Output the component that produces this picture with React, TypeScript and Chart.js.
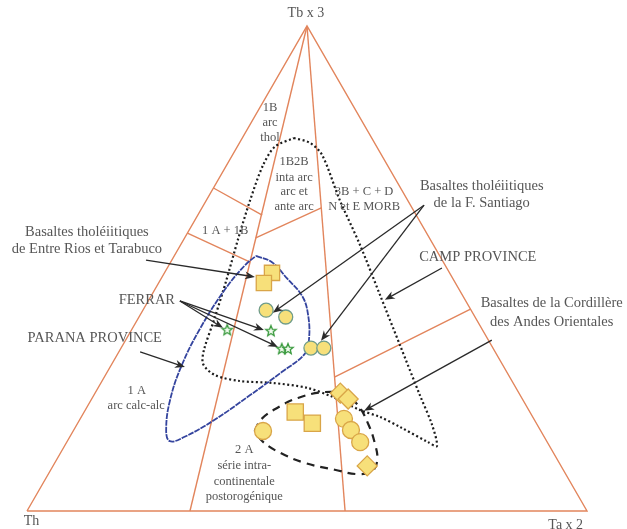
import { useEffect, useRef } from 'react';
import { Chart, registerables } from 'chart.js';
Chart.register(...registerables);

// ---------- data: compositions in % as [Th, Tb x 3, Ta x 2] ----------
const entreRiosSquares = [[31.7, 49.1, 19.2], [34.2, 47.0, 18.8]];
const santiagoCircles = [[36.6, 41.4, 22.0], [33.8, 40.0, 26.2], [32.5, 33.6, 33.9], [30.2, 33.6, 36.2]];
const ferrarStars = [[45.6, 37.3, 17.1], [37.9, 37.1, 25.0], [37.8, 33.4, 28.8], [36.7, 33.4, 29.9]];
const intraSquares = [[41.9, 20.4, 37.7], [40.0, 18.1, 41.9]];
const intraCircles = [[49.6, 16.5, 33.9]];
const cordillereCircles = [[33.9, 19.0, 47.1], [33.8, 16.7, 49.5], [33.4, 14.2, 52.4]];
const cordillereDiamonds = [[31.9, 24.3, 43.8], [31.1, 23.1, 45.8], [34.6, 9.3, 56.1]];

const frame = [[100, 0, 0], [0, 100, 0], [0, 0, 100], [100, 0, 0]];
const boundaries = [
  [[70.9, 0, 29.1], [0, 100, 0]],
  [[43.2, 0, 56.8], [0, 100, 0]],
  [[33.4, 66.6, 0], [27.5, 61.0, 11.5]],
  [[42.7, 57.3, 0], [34.5, 51.3, 14.2]],
  [[31.0, 56.3, 12.7], [16.2, 62.5, 21.3]],
  [[31.3, 27.6, 41.1], [0, 41.6, 58.4]],
];

const paranaOutline = [
  [32.8, 52.6, 14.6], [30.6, 51.3, 18.1], [29.6, 48.0, 22.4], [28.7, 44.3, 27.0], [29.6, 40.4, 30.0],
  [32.0, 35.3, 32.7], [34.2, 32.4, 33.4], [40.1, 28.7, 31.2], [48.2, 23.9, 27.9], [57.1, 18.8, 24.1],
  [64.2, 15.3, 20.5], [67.3, 14.4, 18.3], [66.8, 16.7, 16.5], [63.0, 22.9, 14.1], [57.3, 30.1, 12.6],
  [50.2, 37.7, 12.1], [41.9, 45.6, 12.5], [35.7, 50.7, 13.6], [32.8, 52.6, 14.6],
];
const campOutline = [
  [13.9, 76.9, 9.2], [11.5, 75.9, 12.6], [10.6, 73.4, 16.0], [12.1, 64.1, 23.8], [13.1, 54.9, 32.0],
  [14.7, 44.5, 40.8], [16.3, 34.2, 49.5], [17.9, 23.9, 58.2], [18.8, 17.7, 63.5], [20.1, 13.4, 66.5],
  [21.3, 14.2, 64.5], [24.7, 17.3, 58.0], [27.3, 19.4, 53.3], [30.1, 20.8, 49.1], [33.6, 23.5, 42.9],
  [37.3, 25.4, 37.3], [42.9, 26.4, 30.7], [48.6, 26.8, 24.6], [52.4, 28.0, 19.6], [53.4, 30.3, 16.3],
  [51.8, 33.2, 15.0], [46.9, 39.4, 13.7], [40.6, 47.6, 11.8], [34.4, 55.9, 9.7], [28.1, 64.1, 7.8],
  [22.2, 71.3, 6.5], [18.2, 75.1, 6.7], [13.9, 76.9, 9.2],
];
const intraField = [
  [51.1, 16.5, 32.4], [48.6, 19.0, 32.4], [44.0, 21.6, 34.4], [40.0, 23.3, 36.7], [34.9, 24.5, 40.6],
  [31.5, 24.1, 44.4], [30.0, 21.9, 48.1], [30.1, 17.9, 52.0], [30.9, 14.0, 55.1], [32.2, 10.5, 57.3],
  [34.3, 8.2, 57.5], [37.1, 7.6, 55.3], [40.8, 8.5, 50.7], [45.4, 9.9, 44.7], [48.8, 12.0, 39.2],
  [50.7, 14.2, 35.1], [51.1, 16.5, 32.4],
];

// ---------- layout (plot units: x 0..100 along base, y 0..86.6 up) ----------
const fieldLabels = [
  { t: 'Tb x 3', x: 49.8, y: 88.8, s: 14 },
  { t: 'Th', x: 0.8, y: -1.8, s: 14 },
  { t: 'Ta x 2', x: 96.2, y: -2.5, s: 14 },
  { t: '1B', x: 43.4, y: 72.0, s: 12.5 },
  { t: 'arc', x: 43.4, y: 69.3, s: 12.5 },
  { t: 'thol', x: 43.4, y: 66.6, s: 12.5 },
  { t: '1B2B', x: 47.7, y: 62.3, s: 12.5 },
  { t: 'inta arc', x: 47.7, y: 59.6, s: 12.5 },
  { t: 'arc et', x: 47.7, y: 57.0, s: 12.5 },
  { t: 'ante arc', x: 47.7, y: 54.3, s: 12.5 },
  { t: '3B + C + D', x: 60.2, y: 57.0, s: 12.5 },
  { t: 'N et E MORB', x: 60.2, y: 54.3, s: 12.5 },
  { t: '1 A + 1B', x: 35.4, y: 50.0, s: 12.5 },
  { t: '1 A', x: 19.6, y: 21.4, s: 12.5 },
  { t: 'arc calc-alc', x: 19.5, y: 18.8, s: 12.5 },
  { t: '2 A', x: 38.8, y: 10.9, s: 12.5 },
  { t: 'série intra-', x: 38.8, y: 8.1, s: 12.5 },
  { t: 'continentale', x: 38.8, y: 5.2, s: 12.5 },
  { t: 'postorogénique', x: 38.8, y: 2.5, s: 12.5 },
  { t: 'Basaltes tholéiitiques', x: 10.7, y: 49.8, s: 14.5 },
  { t: 'de Entre Rios et Tarabuco', x: 10.7, y: 46.8, s: 14.5 },
  { t: 'FERRAR', x: 21.4, y: 37.7, s: 14.5 },
  { t: 'PARANA PROVINCE', x: 12.1, y: 30.9, s: 14.5 },
  { t: 'Basaltes tholéiitiques', x: 81.2, y: 58.0, s: 14.5 },
  { t: 'de la F. Santiago', x: 81.2, y: 55.0, s: 14.5 },
  { t: 'CAMP PROVINCE', x: 80.5, y: 45.4, s: 14.5 },
  { t: 'Basaltes de la Cordillère', x: 93.7, y: 37.1, s: 14.5 },
  { t: 'des Andes Orientales', x: 93.7, y: 33.8, s: 14.5 },
];
const arrows = [
  { from: [21.25, 44.8], to: [40.7, 41.8] },
  { from: [27.3, 37.5], to: [35.0, 32.7] },
  { from: [27.3, 37.5], to: [42.3, 32.3] },
  { from: [27.3, 37.5], to: [44.8, 29.3] },
  { from: [20.2, 28.4], to: [28.2, 25.7] },
  { from: [70.9, 54.6], to: [43.9, 35.4] },
  { from: [70.9, 54.6], to: [52.5, 30.4] },
  { from: [74.1, 43.4], to: [63.9, 37.7] },
  { from: [83.0, 30.5], to: [60.2, 17.9] },
];

const SQ = Math.sqrt(3) / 2;
const tern = (p: number[]) => {
  const s = p[0] + p[1] + p[2];
  const tb = (p[1] / s) * 100;
  const ta = (p[2] / s) * 100;
  return { x: ta + tb / 2, y: tb * SQ };
};
const FONT = '"Liberation Serif", "Times New Roman", serif';
const ORANGE = '#e2855c';
const YELLOW = '#f7e07a';

function makeStar(): HTMLCanvasElement {
  const c = document.createElement('canvas');
  c.width = 14; c.height = 14;
  const g = c.getContext('2d')!;
  g.beginPath();
  for (let i = 0; i < 10; i++) {
    const r = i % 2 === 0 ? 5.5 : 2.4;
    const a = -Math.PI / 2 + (i * Math.PI) / 5;
    const px = 7 + r * Math.cos(a), py = 7 + r * Math.sin(a);
    if (i === 0) g.moveTo(px, py); else g.lineTo(px, py);
  }
  g.closePath();
  g.fillStyle = '#f2fbef';
  g.fill();
  g.strokeStyle = '#3a9a3e';
  g.lineWidth = 1.3;
  g.stroke();
  return c;
}

export default function App() {
  const ref = useRef<HTMLCanvasElement>(null);
  useEffect(() => {
    const star = makeStar();
    const line = (pts: number[][], color: string, width: number, extra: any = {}) => ({
      data: pts.map(tern), showLine: true, pointRadius: 0, borderColor: color,
      borderWidth: width, fill: false, clip: false, order: 3, ...extra,
    });
    const markers = (pts: number[][], style: any, r: number, border: string, extra: any = {}) => ({
      data: pts.map(tern), showLine: false, pointStyle: style, pointRadius: r,
      pointBackgroundColor: YELLOW, pointBorderColor: border, pointBorderWidth: 1.3,
      clip: false, order: 0, ...extra,
    });
    const annot = {
      id: 'annot',
      afterDatasetsDraw(chart: any) {
        const { ctx, scales } = chart;
        const X = (v: number) => scales.x.getPixelForValue(v);
        const Y = (v: number) => scales.y.getPixelForValue(v);
        ctx.save();
        ctx.strokeStyle = '#2a2a2a';
        ctx.fillStyle = '#2a2a2a';
        ctx.lineWidth = 1.3;
        for (const a of arrows) {
          const x1 = X(a.from[0]), y1 = Y(a.from[1]), x2 = X(a.to[0]), y2 = Y(a.to[1]);
          const ang = Math.atan2(y2 - y1, x2 - x1);
          ctx.beginPath();
          ctx.moveTo(x1, y1);
          ctx.lineTo(x2 - 6 * Math.cos(ang), y2 - 6 * Math.sin(ang));
          ctx.stroke();
          ctx.beginPath();
          ctx.moveTo(x2, y2);
          ctx.lineTo(x2 - 10 * Math.cos(ang) + 4 * Math.sin(ang), y2 - 10 * Math.sin(ang) - 4 * Math.cos(ang));
          ctx.lineTo(x2 - 7 * Math.cos(ang), y2 - 7 * Math.sin(ang));
          ctx.lineTo(x2 - 10 * Math.cos(ang) - 4 * Math.sin(ang), y2 - 10 * Math.sin(ang) + 4 * Math.cos(ang));
          ctx.closePath();
          ctx.fill();
        }
        ctx.textAlign = 'center';
        ctx.textBaseline = 'middle';
        ctx.fillStyle = '#565656';
        for (const l of fieldLabels) {
          ctx.font = `${l.s}px ${FONT}`;
          ctx.fillText(l.t, X(l.x), Y(l.y));
        }
        ctx.restore();
      },
    };
    const chart = new Chart(ref.current!, {
      type: 'scatter',
      data: {
        datasets: [
          markers(entreRiosSquares, 'rect', 10.8, '#d9a548'),
          markers(santiagoCircles, 'circle', 7, '#6f9c8a'),
          markers(ferrarStars, star, 6, '#3a9a3e'),
          markers(intraSquares, 'rect', 11.5, '#d9a548'),
          markers(intraCircles, 'circle', 8.5, '#d9a548'),
          markers(cordillereCircles, 'circle', 8.5, '#d9a548'),
          markers(cordillereDiamonds, 'rectRot', 10, '#d9a548'),
          line(paranaOutline, '#34449e', 1.8, { tension: 0.4, borderDash: [6, 1], order: 1 }),
          line(campOutline, '#1c1c1c', 2.2, { tension: 0.3, borderDash: [2, 2.5], order: 1 }),
          line(intraField, '#222222', 2.2, { tension: 0.4, borderDash: [8, 6], order: 1 }),
          line(frame, ORANGE, 1.4),
          ...boundaries.map((b) => line(b, ORANGE, 1.4)),
        ] as any,
      },
      options: {
        responsive: false,
        animation: false,
        layout: { padding: { left: 27, right: 40, top: 26, bottom: 18 } },
        scales: {
          x: { type: 'linear', min: 0, max: 100, display: false },
          y: { type: 'linear', min: 0, max: 100 * SQ, display: false },
        },
        plugins: { legend: { display: false }, tooltip: { enabled: false } },
      },
      plugins: [annot],
    });
    return () => chart.destroy();
  }, []);
  return (
    <div style={{ position: 'absolute', left: 0, top: 0, width: 627, height: 529, background: '#fff' }}>
      <canvas ref={ref} width={627} height={529} style={{ display: 'block' }} />
    </div>
  );
}
